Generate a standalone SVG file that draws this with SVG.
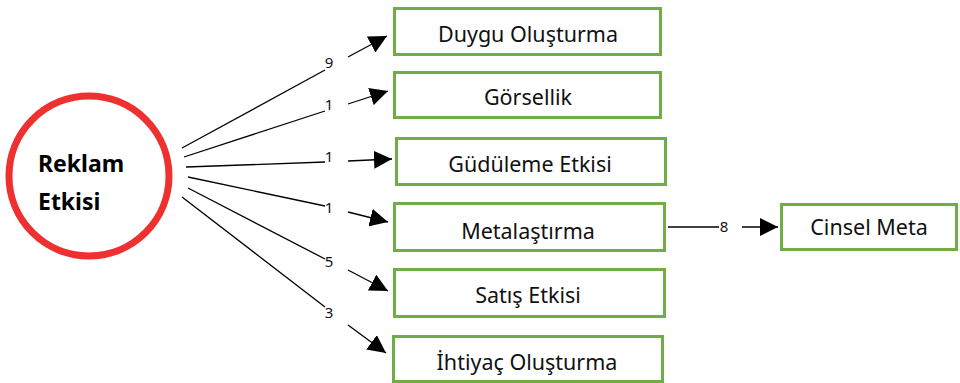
<svg xmlns="http://www.w3.org/2000/svg" width="960" height="383" viewBox="0 0 960 383">
  <style>
    .box { fill: #ffffff; stroke: #70AD47; stroke-width: 3; }
    .lbl { font-family: "Noto Sans", "Open Sans", sans-serif; font-size: 21.5px; fill: #111111; text-anchor: middle; }
    .num { font-family: "Noto Sans", "Open Sans", sans-serif; font-size: 15px; fill: #111111; text-anchor: middle; }
    .edge { fill: none; stroke: #000000; stroke-width: 1.3; }
    .hub { fill: #ffffff; stroke: #EE3030; stroke-width: 7; }
    .hubtxt { font-family: "Noto Sans", "Open Sans", sans-serif; font-size: 23px; font-weight: bold; fill: #000000; }
  </style>
  <defs>
    <marker id="arrow" markerUnits="userSpaceOnUse" markerWidth="18" markerHeight="18" viewBox="0 0 18 18" refX="18" refY="9" orient="auto">
      <path d="M0,0 L18,9 L0,18 Z" fill="#000000"/>
    </marker>
  </defs>
  <rect width="960" height="383" fill="#ffffff"/>

  <!-- connectors: each line is broken around its count label -->
  <g id="connectors">
    <path class="edge" d="M182,148 L325,70"/>
    <path class="edge" d="M348,57 L387,36" marker-end="url(#arrow)"/>
    <text class="num" x="329" y="68">9</text>

    <path class="edge" d="M184,157 L325,111"/>
    <path class="edge" d="M348,104 L388,91" marker-end="url(#arrow)"/>
    <text class="num" x="329" y="110">1</text>

    <path class="edge" d="M186,167 L325,162"/>
    <path class="edge" d="M348,161 L392,159" marker-end="url(#arrow)"/>
    <text class="num" x="329" y="162">1</text>

    <path class="edge" d="M188,177 L325,206"/>
    <path class="edge" d="M348,212 L388,222" marker-end="url(#arrow)"/>
    <text class="num" x="329" y="213">1</text>

    <path class="edge" d="M188,188 L325,259"/>
    <path class="edge" d="M348,270 L388,291" marker-end="url(#arrow)"/>
    <text class="num" x="329" y="267">5</text>

    <path class="edge" d="M182,197 L325,307"/>
    <path class="edge" d="M348,325 L386,353" marker-end="url(#arrow)"/>
    <text class="num" x="329" y="318">3</text>

    <path class="edge" d="M668,227 L719,227"/>
    <path class="edge" d="M742,227 L778,227" marker-end="url(#arrow)"/>
    <text class="num" x="724" y="232">8</text>
  </g>

  <g id="reklam-etkisi">
    <circle class="hub" cx="89" cy="176" r="80"/>
    <text class="hubtxt" x="38" y="172">Reklam</text>
    <text class="hubtxt" x="38" y="210">Etkisi</text>
  </g>

  <g id="duygu-olusturma">
    <rect class="box" x="394.5" y="8.5" width="266" height="46"/>
    <text class="lbl" x="528" y="42">Duygu Oluşturma</text>
  </g>

  <g id="gorsellik">
    <rect class="box" x="394.5" y="72.5" width="266" height="45"/>
    <text class="lbl" x="528" y="105">Görsellik</text>
  </g>

  <g id="guduleme-etkisi">
    <rect class="box" x="396.5" y="138.5" width="269" height="46"/>
    <text class="lbl" x="530" y="172">Güdüleme Etkisi</text>
  </g>

  <g id="metalastirma">
    <rect class="box" x="394.5" y="203.5" width="270" height="47"/>
    <text class="lbl" x="528" y="239">Metalaştırma</text>
  </g>

  <g id="satis-etkisi">
    <rect class="box" x="394.5" y="269.5" width="270" height="47"/>
    <text class="lbl" x="528" y="303">Satış Etkisi</text>
  </g>

  <g id="ihtiyac-olusturma">
    <rect class="box" x="393.5" y="336.5" width="269" height="45"/>
    <text class="lbl" x="527" y="370">İhtiyaç Oluşturma</text>
  </g>

  <g id="cinsel-meta">
    <rect class="box" x="781.5" y="204.5" width="175" height="45"/>
    <text class="lbl" x="869" y="235">Cinsel Meta</text>
  </g>
</svg>
